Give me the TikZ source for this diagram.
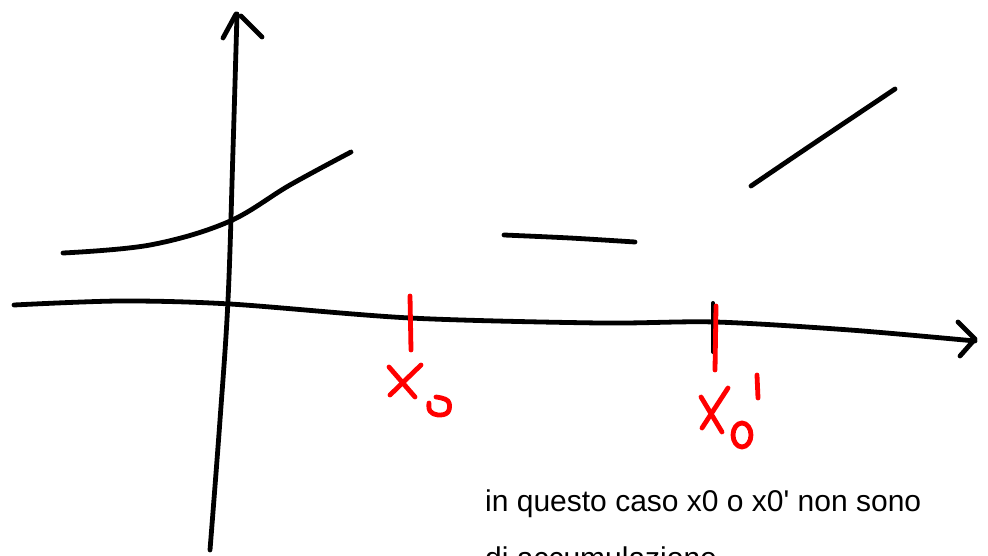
\documentclass[tikz,border=0pt]{standalone}
\usepackage{fontspec}
\setmainfont{Liberation Sans}
\font\notefont="Liberation Sans" at 30pt
\begin{document}
\begin{tikzpicture}[x=1pt,y=-1pt,
  pen/.style={line width=4.8pt,line cap=round,line join=round},
  redpen/.style={pen,red},
  note/.style={anchor=base west,inner sep=0pt,font=\notefont}]
\useasboundingbox (0,0) rectangle (988,556);
\clip (0,0) rectangle (988,556);
% y axis
\draw[pen] plot[smooth,tension=0.6] coordinates {(210,550) (220,420) (228,300) (233,150) (237,14)};
\draw[pen] (236,14) -- (223,38);
\draw[pen] (241,16) -- (262,37);
% x axis
\draw[pen] plot[smooth,tension=0.5] coordinates {(14,305) (120,301) (230,304) (410,318) (600,323) (715,322) (850,330) (975,341)};
\draw[pen] (958,322) -- (975,339) -- (960,356);
% function pieces
\draw[pen] plot[smooth,tension=0.6] coordinates {(63,253) (150,245) (228,222) (290,185) (351,152)};
\draw[pen] plot[smooth] coordinates {(504,235) (570,238) (635,242)};
\draw[pen] plot[smooth] coordinates {(751,186) (810,146) (895,89)};
% black tick at x0'
\draw[pen,line width=4pt] (713,303) -- (713,352);
% red ticks
\draw[redpen] (410,296) -- (411,350);
\draw[redpen] (716,306) -- (715,370);
% x0 label
\draw[redpen] (389,367) -- (415,397);
\draw[redpen] (421,365) -- (390,395);
\draw[redpen] plot[smooth,tension=0.7] coordinates {(436,397) (448,401) (448,412) (438,415) (430,411) (429,403)};
% x0' label
\draw[redpen] (701,397) -- (722,432);
\draw[redpen] (728,388) -- (702,428);
\draw[redpen] (742,435) ellipse[x radius=9,y radius=12];
\draw[redpen] (757,375) -- (758,398);
% text
\node[note] (t1) at (485,511) {in questo caso x0 o x0' non sono};
\node[note] (t2) at (485,568) {di accumulazione};
\end{tikzpicture}
\end{document}
